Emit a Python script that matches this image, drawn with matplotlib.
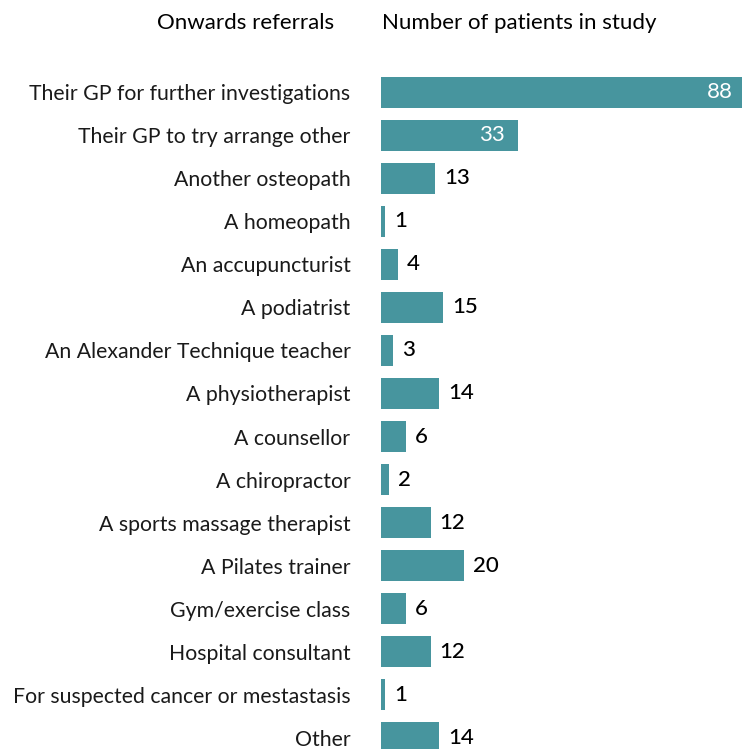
import matplotlib.pyplot as plt

categories = ['Their GP for further investigations', 'Their GP to try arrange other',
              'Another osteopath', 'A homeopath', 'An accupuncturist', 'A podiatrist',
              'An Alexander Technique teacher', 'A physiotherapist', 'A counsellor',
              'A chiropractor', 'A sports massage therapist', 'A Pilates trainer',
              'Gym/exercise class', 'Hospital consultant',
              'For suspected cancer or mestastasis', 'Other']
patients = [88, 33, 13, 1, 4, 15, 3, 14, 6, 2, 12, 20, 6, 12, 1, 14]

bar_color = '#47959e'
font = 'Lato'

fig = plt.figure(figsize=(7.42, 7.49), dpi=100)
ax = fig.add_axes([381 / 742, 0, 361 / 742, 672 / 749])

ys = list(range(len(categories)))
ax.barh(ys, patients, height=0.72, color=bar_color)
ax.set_xlim(0, 87.2)
ax.set_ylim(15.267, -0.36)

for y, v in zip(ys, patients):
    if v >= 30:
        ax.annotate(str(v), (v, y), xytext=(-9, 0), textcoords='offset points',
                    ha='right', va='center', color='white', fontsize=16, family=font,
                    annotation_clip=False)
    else:
        ax.annotate(str(v), (v, y), xytext=(6.5, 0), textcoords='offset points',
                    ha='left', va='center', color='black', fontsize=16, family=font,
                    fontweight='medium', annotation_clip=False)

ax.set_yticks(ys)
ax.set_yticklabels(categories, fontsize=15.3, family=font, color='#1a1a1a')
ax.tick_params(axis='y', length=0, pad=22)
ax.set_xticks([])
for s in ax.spines.values():
    s.set_visible(False)

fig.text(334 / 742, 1 - 23 / 749, 'Onwards referrals', ha='right', va='center',
         fontsize=16, family=font, color='black')
fig.text(382 / 742, 1 - 23 / 749, 'Number of patients in study', ha='left', va='center',
         fontsize=16, family=font, color='black')

fig.savefig('out.png', dpi=100)
